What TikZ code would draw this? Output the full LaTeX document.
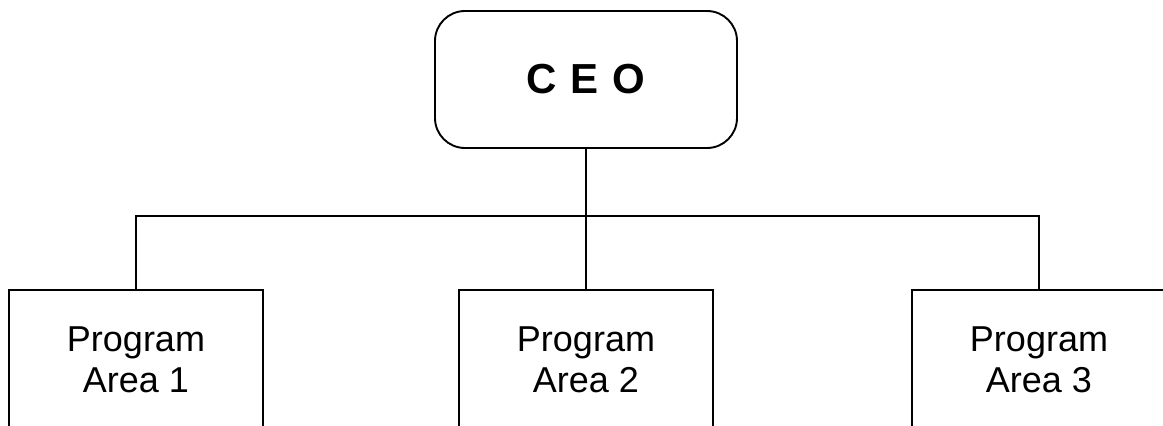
\documentclass[tikz,border=0pt]{standalone}
\usepackage{fontspec}
\setmainfont{Liberation Sans}
\begin{document}
\begin{tikzpicture}[x=1pt,y=-1pt,
  line width=1.9pt,
  ceobox/.style={draw, rounded corners=30pt, minimum width=302pt, minimum height=137pt, inner sep=0pt, font=\fontsize{42}{48}\selectfont\bfseries},
  areabox/.style={draw, minimum width=254pt, minimum height=140pt, inner sep=0pt, align=center, font=\fontsize{36}{41}\selectfont}]
\useasboundingbox (0,0) rectangle (1163,426);
\clip (0,0) rectangle (1163,426);
\node[ceobox] (ceo) at (586,79.5) {C\,\,E\,\,O};
\node[areabox] (p1) at (136,360) {Program\\Area 1};
\node[areabox] (p2) at (586,360) {Program\\Area 2};
\node[areabox] (p3) at (1039,360) {Program\\Area 3};
\coordinate (bus) at (586,216);
\draw (ceo.south) -- (p2.north);
\draw (p1.north) -- (p1.north |- bus) -- (p3.north |- bus) -- (p3.north);
\end{tikzpicture}
\end{document}
